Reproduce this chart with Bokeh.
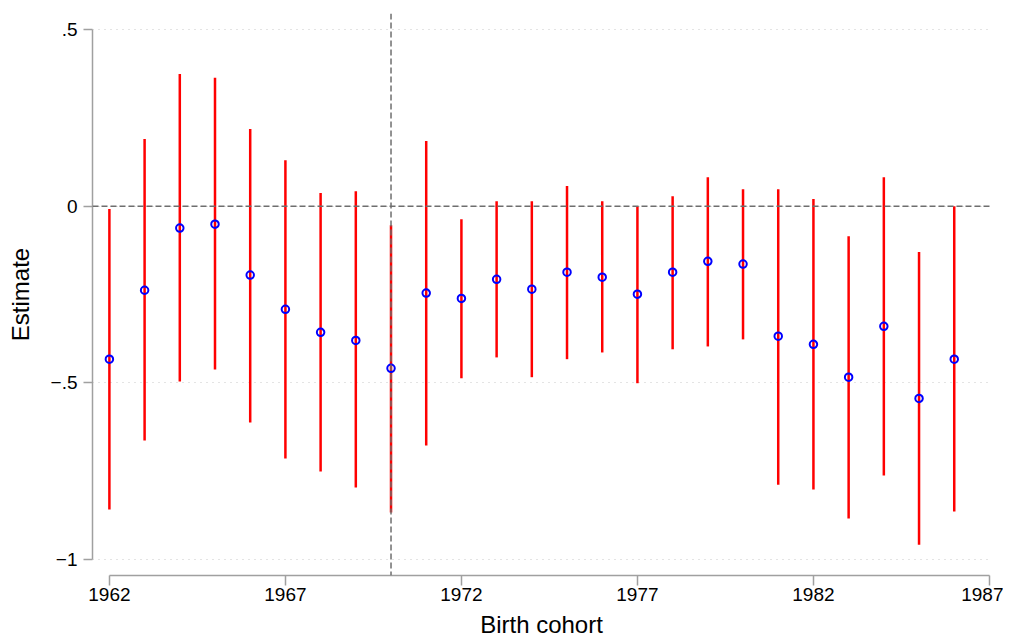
from bokeh.plotting import figure
from bokeh.models import FixedTicker, Span, ColumnDataSource
from bokeh.embed import file_html
from bokeh.resources import INLINE

cohort = list(range(1962, 1987))
estimate = [-0.433, -0.238, -0.062, -0.051, -0.195, -0.292, -0.357, -0.380, -0.459,
            -0.246, -0.261, -0.207, -0.235, -0.187, -0.201, -0.249, -0.187, -0.156,
            -0.164, -0.368, -0.391, -0.484, -0.340, -0.544, -0.433]
upper = [-0.008, 0.190, 0.374, 0.363, 0.218, 0.130, 0.037, 0.042, -0.054,
         0.184, -0.037, 0.014, 0.014, 0.057, 0.014, 0.000, 0.028, 0.082,
         0.048, 0.048, 0.020, -0.085, 0.082, -0.130, 0.000]
lower = [-0.858, -0.663, -0.496, -0.462, -0.612, -0.714, -0.751, -0.796, -0.867,
         -0.677, -0.487, -0.428, -0.484, -0.433, -0.414, -0.501, -0.405, -0.397,
         -0.377, -0.788, -0.802, -0.884, -0.762, -0.958, -0.864]

y_ticks = [-1, -0.5, 0, 0.5]
y_tick_labels = ["\u22121", "\u2212.5", "0", ".5"]
x_ticks = [1962, 1967, 1972, 1977, 1982, 1987]
x_tick_labels = ["1962", "1967", "1972", "1977", "1982", "1987"]
event_year = 1970

src = ColumnDataSource(dict(x=cohort, y=estimate, lo=lower, hi=upper))

p = figure(frame_width=898, frame_height=562,
           min_border_left=92, min_border_right=13, min_border_top=13, min_border_bottom=60,
           x_range=(1961.52, 1987.03), y_range=(-1.045, 0.545),
           output_backend="svg", toolbar_location=None)
p.outline_line_color = None
p.background_fill_color = "white"
p.border_fill_color = "white"

p.xgrid.visible = False
p.ygrid.ticker = FixedTicker(ticks=y_ticks)
p.ygrid.grid_line_color = "#c8c8c8"
p.ygrid.grid_line_dash = "1 5"
p.ygrid.grid_line_width = 1

font = "Liberation Sans"
for ax in (p.xaxis[0], p.yaxis[0]):
    ax.axis_line_color = "#a0a0a0"
    ax.axis_line_width = 1.5
    ax.major_tick_line_color = "#a0a0a0"
    ax.major_tick_line_width = 1.5
    ax.major_tick_in = 0
    ax.minor_tick_line_color = None
    ax.major_label_text_font = font
    ax.major_label_text_font_size = "19px"
    ax.major_label_text_color = "black"
    ax.axis_label_text_font = font
    ax.axis_label_text_font_size = "24px"
    ax.axis_label_text_font_style = "normal"
    ax.axis_label_text_color = "black"

p.yaxis[0].ticker = FixedTicker(ticks=y_ticks)
p.yaxis[0].major_label_overrides = dict(zip(y_ticks, y_tick_labels))
p.yaxis[0].bounds = (-1, 0.5)
p.yaxis[0].major_tick_out = 9
p.yaxis[0].major_label_standoff = 6
p.yaxis[0].axis_label = "Estimate"
p.yaxis[0].axis_label_standoff = 14

p.xaxis[0].ticker = FixedTicker(ticks=x_ticks)
p.xaxis[0].major_label_overrides = dict(zip(x_ticks, x_tick_labels))
p.xaxis[0].bounds = (1962, 1987)
p.xaxis[0].major_tick_out = 10
p.xaxis[0].major_label_standoff = 2
p.xaxis[0].axis_label = "Birth cohort"
p.xaxis[0].axis_label_standoff = 7

p.add_layout(Span(location=0, dimension="width", line_color="#6e6e6e",
                  line_dash="6 3", line_width=1.5))
p.add_layout(Span(location=event_year, dimension="height", line_color="#6e6e6e",
                  line_dash="6 3", line_width=1.5))

p.segment(x0="x", y0="lo", x1="x", y1="hi", source=src, line_color="#ff0000", line_width=2.5)
p.scatter(x="x", y="y", source=src, marker="circle", size=7.5, fill_color=None,
          line_color="#0000ff", line_width=2)

open("out.html", "w").write(file_html(p, INLINE))
